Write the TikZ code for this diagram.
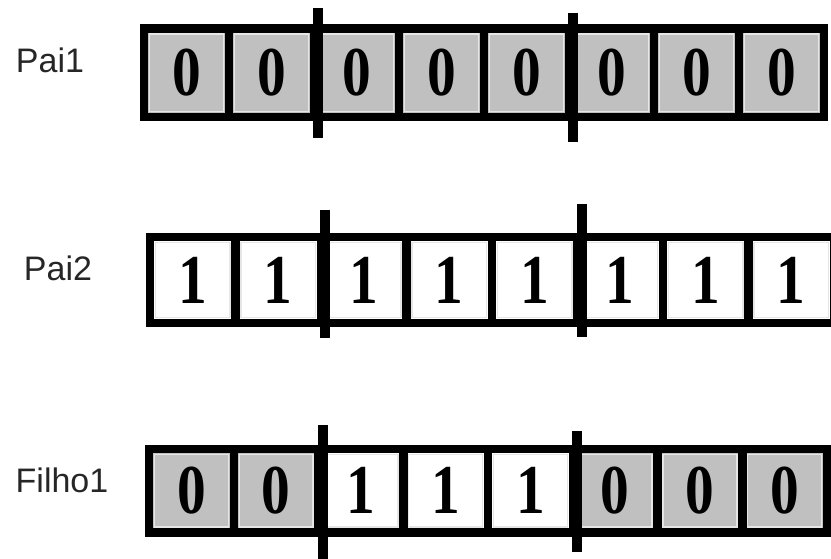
\documentclass[tikz,border=0pt]{standalone}
\usepackage{fontspec}
\setmainfont{Liberation Sans}
\newfontfamily\genefont{Liberation Serif}[UprightFont={* Bold},FakeStretch=0.82]
\usetikzlibrary{positioning}
\definecolor{gene0}{HTML}{C0C0C0}
\definecolor{gene1}{HTML}{FFFFFF}
\definecolor{generim}{HTML}{E6E6E6}
\tikzset{
  tagnode/.style={inner sep=0pt,text=black!85,font={\fontsize{34}{40}\selectfont}},
  genebox/.style={draw=black,line width=8.5pt,inner sep=0pt,
    font={\genefont\fontsize{70}{70}\selectfont},
    path picture={\draw[generim,line width=1.3pt]
      ([shift={(5.4pt,-5.4pt)}]path picture bounding box.north west) rectangle
      ([shift={(-5.4pt,5.4pt)}]path picture bounding box.south east);}},
  cutline/.style={line width=10pt,black},
}
\begin{document}
\begin{tikzpicture}[x=1pt,y=-1pt]
  \useasboundingbox (0,0) rectangle (831,559);
  \clip (0,0) rectangle (831,559);
  % parents and child
  \node[tagnode] (pai1) at (50,60) {Pai1};
  \node[tagnode] (pai2) at (58,268) {Pai2};
  \node[tagnode] (filho1) at (62,480) {Filho1};
  \foreach \g [count=\i] in {0,0,0,0,0,0,0,0}
    \node[genebox,fill=gene\g,minimum width=85pt,minimum height=88.5pt] (p1c\i) at ({186.5+85*(\i-1)},73) {\g};
  \foreach \g [count=\i] in {1,1,1,1,1,1,1,1}
    \node[genebox,fill=gene\g,minimum width=85.5pt,minimum height=86pt] (p2c\i) at ({192.75+85.5*(\i-1)},280) {\g};
  \foreach \g [count=\i] in {0,0,1,1,1,0,0,0}
    \node[genebox,fill=gene\g,minimum width=84.75pt,minimum height=83.5pt] (f1c\i) at ({191.4+84.75*(\i-1)},490.7) {\g};
  % cut points
  \draw[cutline] (p1c2.east |- 0,8) -- (p1c2.east |- 0,138);
  \draw[cutline] (p1c5.east |- 0,13) -- (p1c5.east |- 0,142);
  \draw[cutline] (p2c2.east |- 0,210) -- (p2c2.east |- 0,338);
  \draw[cutline] (p2c5.east |- 0,204) -- (p2c5.east |- 0,337);
  \draw[cutline] (f1c2.east |- 0,425) -- (f1c2.east |- 0,562);
  \draw[cutline] (f1c5.east |- 0,431) -- (f1c5.east |- 0,552);
\end{tikzpicture}
\end{document}
